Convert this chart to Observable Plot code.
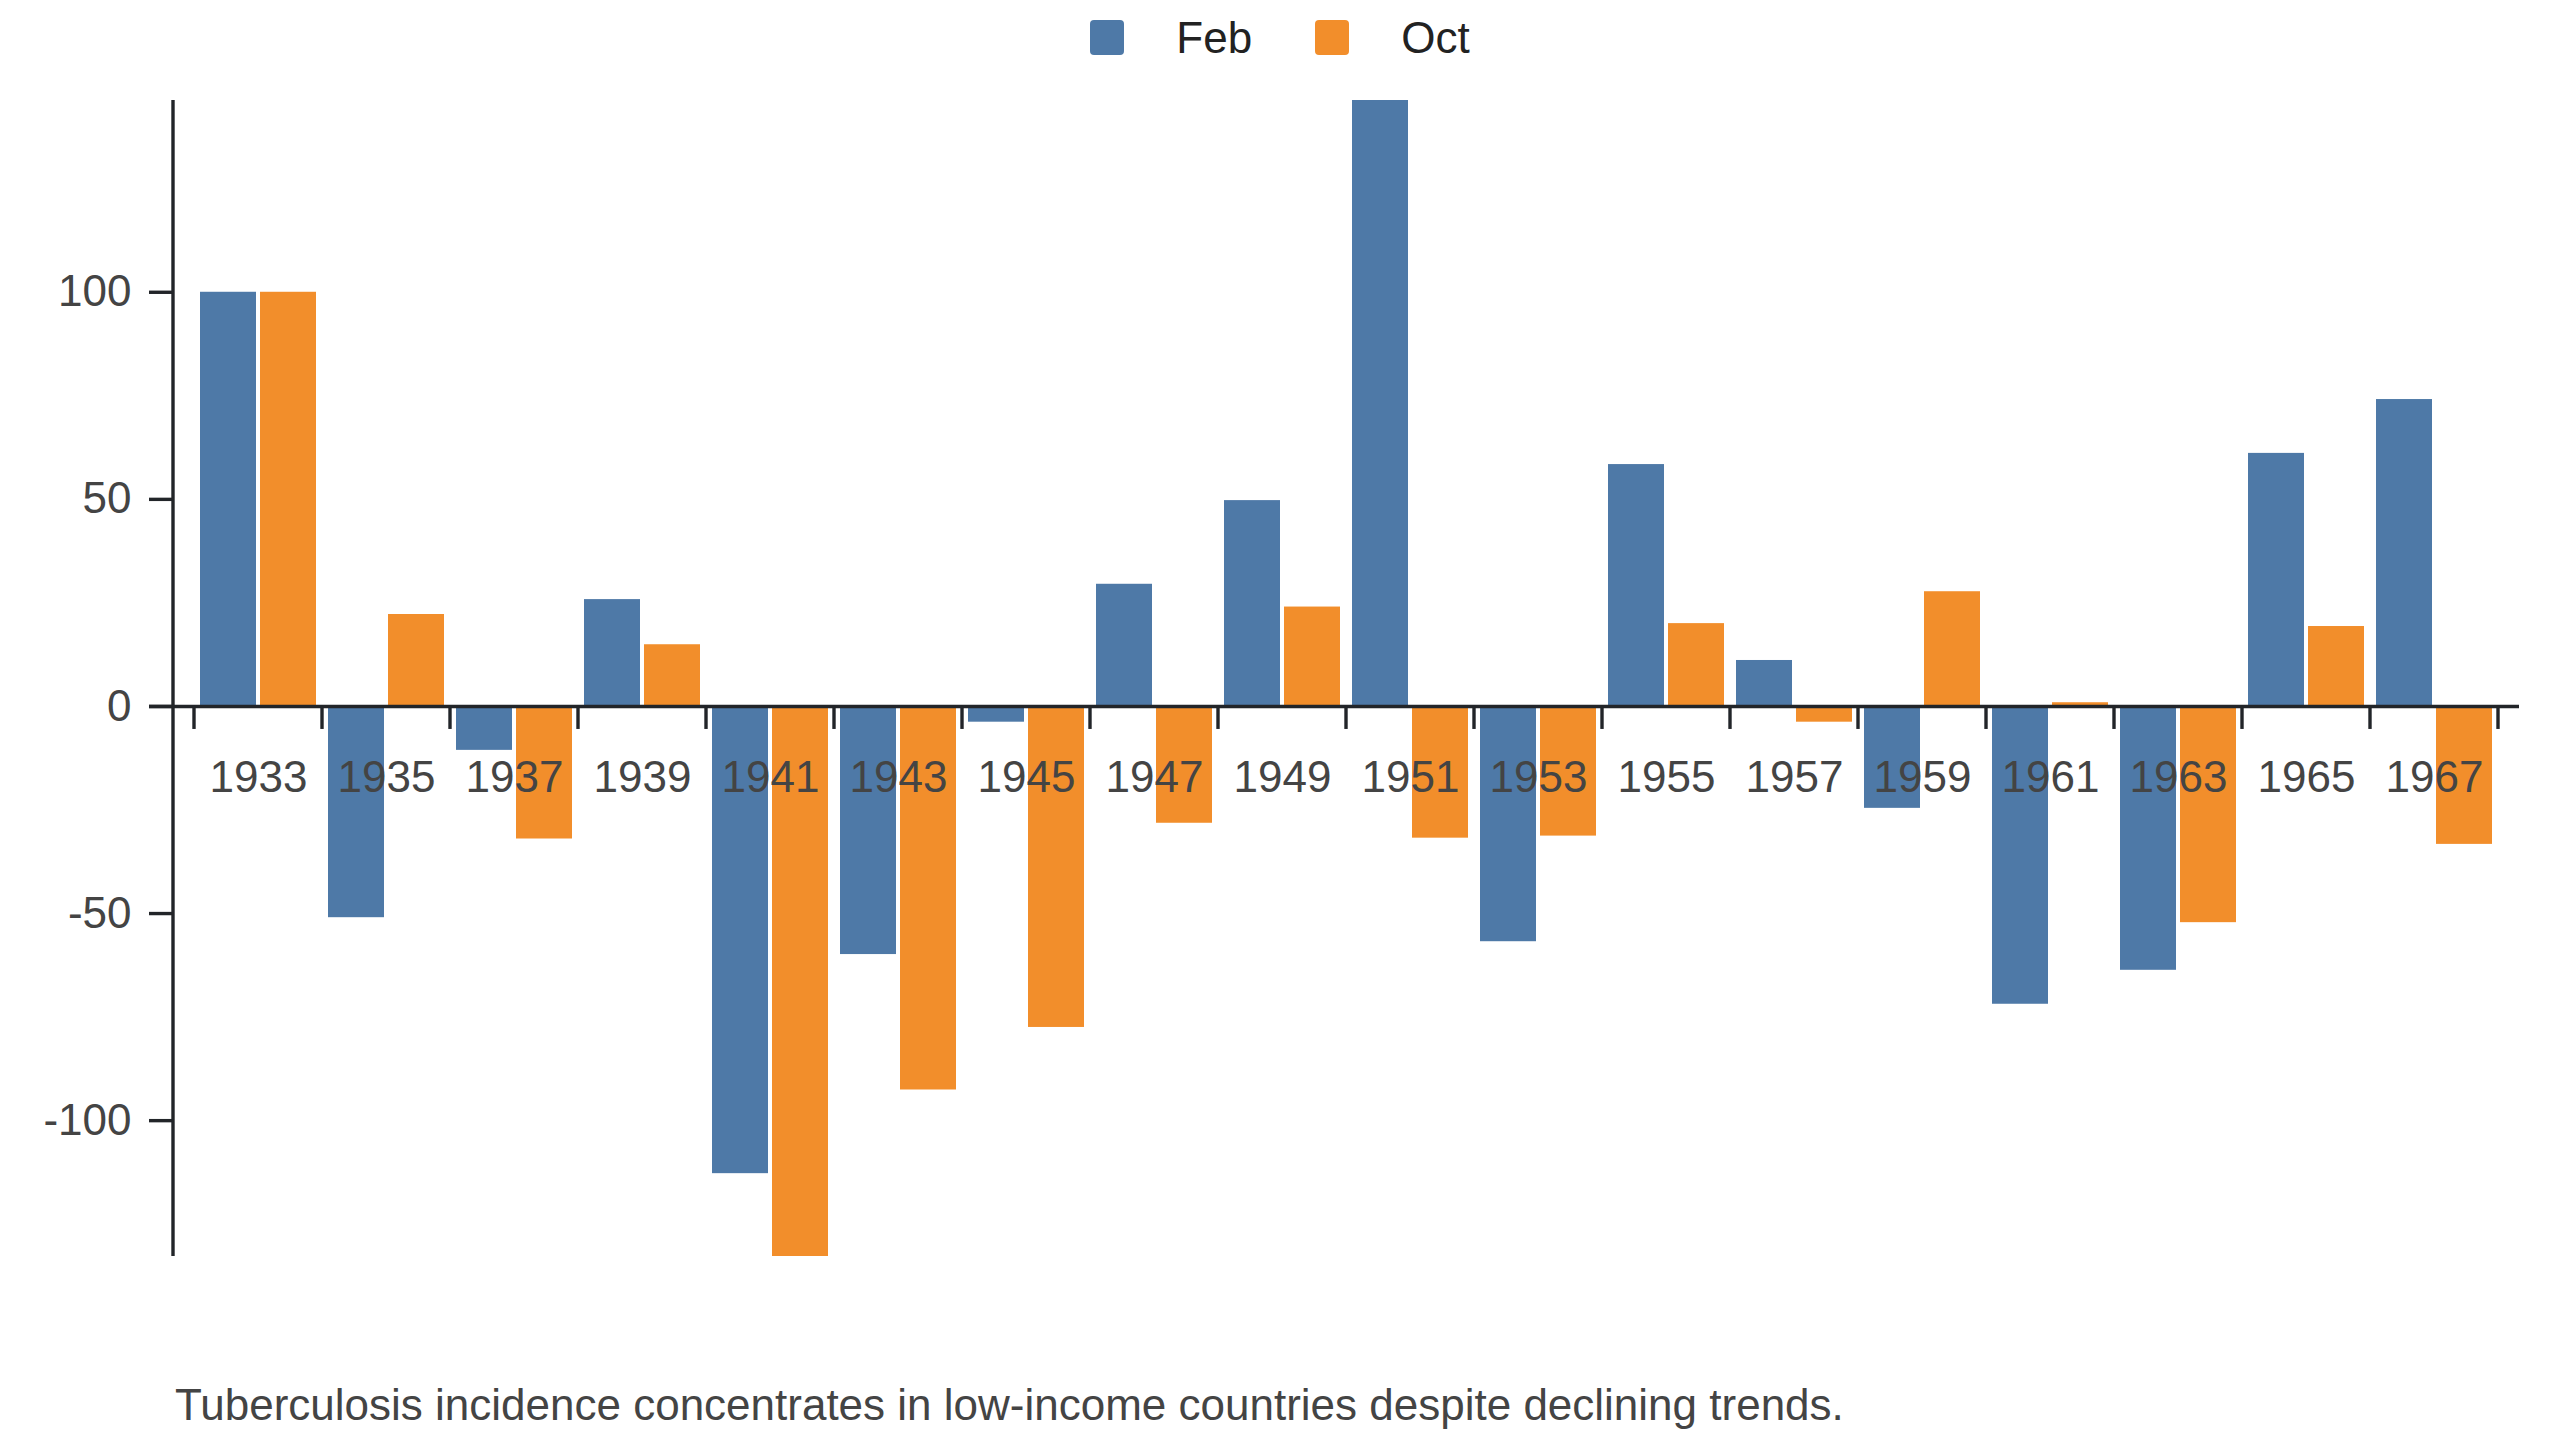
<!DOCTYPE html>
<html>
<head>
<meta charset="utf-8">
<script src="https://cdn.jsdelivr.net/npm/d3@7"></script>
<script src="https://cdn.jsdelivr.net/npm/@observablehq/plot@0.6"></script>
<style>
  html, body { margin: 0; padding: 0; background: #fff; }
  body { width: 2560px; font-family: "Liberation Sans", Arial, sans-serif; }
  #legend { height: 75px; display: flex; justify-content: center; align-items: center; font-size: 44px; color: #222; }
  #legend .sw { width: 34px; height: 35px; border-radius: 4px; }
  #legend .lab { margin-left: 52px; }
  #legend .item + .item { margin-left: 63px; }
  #legend .item { display: flex; align-items: center; }
  #chart svg { display: block; }
  #chart svg line { stroke-width: 3.4px !important; }
  #chart svg g[aria-label="y-axis tick"] path { stroke-width: 3.4px !important; }
  #caption { height: 70px; line-height: 70px; padding-left: 175px; font-size: 44px; color: #444; white-space: nowrap; }
</style>
</head>
<body>
<div id="legend"></div>
<div id="chart"></div>
<div id="caption"></div>
<script>
// ---- data ----
const years = [1933, 1935, 1937, 1939, 1941, 1943, 1945, 1947, 1949, 1951, 1953, 1955, 1957, 1959, 1961, 1963, 1965, 1967];
const feb = [100, -51, -10.6, 25.8, -112.8, -59.9, -3.8, 29.5, 49.7, 146.3, -56.8, 58.4, 11.1, -24.6, -71.9, -63.7, 61.1, 74.1];
const oct = [100, 22.2, -32, 14.9, -132.8, -92.6, -77.5, -28.2, 24, -31.8, -31.3, 20, -3.8, 27.7, 0.9, -52.2, 19.3, -33.3];
const seriesNames = ["Feb", "Oct"];
const seriesColors = ["#4e79a7", "#f28e2b"];
const yTicks = [-100, -50, 0, 50, 100];
const captionText = "Tuberculosis incidence concentrates in low-income countries despite declining trends.";

const axisColor = "#222529";
const labelColor = "#444";

// ---- legend ----
const legend = d3.select("#legend");
seriesNames.forEach((name, i) => {
  const item = legend.append("div").attr("class", "item");
  item.append("div").attr("class", "sw").style("background", seriesColors[i]);
  item.append("div").attr("class", "lab").text(name);
});

// boundary ticks between year groups + y axis line, drawn from the scales
function groupFrame(index, scales, values, dimensions) {
  const x = scales.x, y = scales.y;
  const bw = typeof x.bandwidth === "function" ? x.bandwidth() : x.bandwidth;
  const dom = x.domain();
  const edges = dom.map(d => x(d));
  edges.push(x(dom[dom.length - 1]) + bw);
  const y0 = y(0);
  const g = d3.create("svg:g").attr("stroke", axisColor).attr("stroke-width", 3.4);
  g.selectAll("line.edge").data(edges).join("line").attr("class", "edge")
    .attr("x1", d => d).attr("x2", d => d)
    .attr("y1", y0).attr("y2", y0 + 23);
  g.append("line")
    .attr("x1", dimensions.marginLeft).attr("x2", dimensions.marginLeft)
    .attr("y1", dimensions.marginTop).attr("y2", dimensions.height - dimensions.marginBottom);
  return g.node();
}

const chart = Plot.plot({
  width: 2560,
  height: 1295,
  marginTop: 25,
  marginBottom: 114,
  marginLeft: 173,
  marginRight: 41,
  style: { fontFamily: "'Liberation Sans', Arial, sans-serif", fontSize: "44px", background: "white", overflow: "visible" },
  x: { domain: years, padding: 0, insetLeft: 21, insetRight: 21, axis: null },
  y: { domain: d3.extent([...feb, ...oct]), axis: null, label: null },
  marks: [
    Plot.barY(years, { x: d => d, y: (d, i) => feb[i], fill: seriesColors[0], insetLeft: 6, insetRight: 66 }),
    Plot.barY(years, { x: d => d, y: (d, i) => oct[i], fill: seriesColors[1], insetLeft: 66, insetRight: 6 }),
    Plot.ruleY([0], { stroke: axisColor, strokeWidth: 3.4, insetLeft: -24 }),
    groupFrame,
    Plot.axisY(yTicks, { tickSize: 24, tickPadding: 18, fontSize: 44, stroke: axisColor, fill: labelColor, strokeWidth: 3.4, tickFormat: d => String(d), label: null }),
    Plot.text(years, { x: d => d, y: () => 0, text: d => String(d), dy: 71, fontSize: 44, fill: labelColor })
  ]
});
document.getElementById("chart").appendChild(chart);
document.getElementById("caption").textContent = captionText;
</script>
</body>
</html>
